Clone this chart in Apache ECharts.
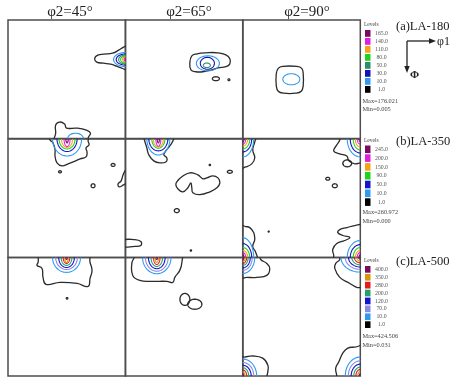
<!DOCTYPE html>
<html>
<head>
<meta charset="utf-8">
<script src="https://cdn.jsdelivr.net/npm/echarts@6/dist/echarts.min.js"></script>
<style>
html, body { margin: 0; padding: 0; background: #ffffff; }
#chart { width: 451px; height: 381px; }
</style>
</head>
<body>
<div id="chart"></div>
<script>
// Constant-phi2 ODF sections: phi1 runs 0-90 deg left to right, Phi runs 0-90 deg top to bottom.
const sectionTitles = ['φ2=45°', 'φ2=65°', 'φ2=90°'];
const sampleNames = ['(a)LA-180', '(b)LA-350', '(c)LA-500'];

// Contour levels of each sample (level index 0 is the lowest, drawn in black)
const levelsA = [1.0, 10.0, 30.0, 50.0, 80.0, 110.0, 140.0, 165.0];
const levelsB = [1.0, 10.0, 50.0, 90.0, 150.0, 200.0, 245.0];
const levelsC = [1.0, 10.0, 70.0, 120.0, 200.0, 280.0, 350.0, 400.0];
const colorsA = ['#2b2b2b', '#2f9bf0', '#1414b4', '#2e8b6e', '#1ed21e', '#f2a414', '#e01ee0', '#7a0a5e'];
const colorsB = ['#2b2b2b', '#2f9bf0', '#1414c8', '#1ed21e', '#f2a414', '#e01ee0', '#7a0a5e'];
const colorsC = ['#2b2b2b', '#2f9bf0', '#8a8ae6', '#1414c8', '#24a070', '#e41c1c', '#d8940c', '#7a0a5e'];
const extremesA = ['Max=176.021', 'Min=0.005'];
const extremesB = ['Max=260.972', 'Min=0.000'];
const extremesC = ['Max=424.506', 'Min=0.031'];

// Closed iso-lines around intensity peaks: [phi1, Phi, half-width phi1, half-width Phi, level index]
const ringsA45 = [[90, 30, 9.2, 5.3, 1], [90, 30, 7.2, 4.2, 2], [90, 30, 5.3, 3.4, 3], [90, 30, 3.8, 2.7, 4],
  [90, 30, 2.3, 1.9, 5], [90, 30, 1.1, 1.1, 6], [51.7, 90, 6, 4, 1]];
const ringsA65 = [[63.2, 32.9, 8.8, 5.7, 1], [62.8, 32.9, 5.4, 4.5, 2], [62.4, 34.4, 2.7, 1.7, 3],
  [69.3, 44.6, 2.7, 1.5, 0], [79.3, 45.4, 0.7, 0.7, 0]];
const ringsA90 = [[37.2, 45, 6.5, 4.2, 1]];
const ringsB45 = [[45.2, 0, 11.1, 12.9, 1], [45.2, 0, 7.7, 9.5, 2], [45.2, 0, 6.1, 7.6, 3], [45.2, 0, 4.2, 6.4, 4],
  [45.2, 0, 2.3, 5.7, 5], [45.2, 0, 0.9, 3, 6],
  [39.8, 24.9, 1.1, 0.8, 0], [80.4, 19.7, 1.5, 1.1, 0], [65.1, 35.5, 1.5, 1.5, 0]];
const ringsB65 = [[25.3, 0, 8.8, 12.1, 1], [25.3, 0, 7.3, 9, 2], [25.3, 0, 5, 7, 3], [25.3, 0, 3.8, 6, 4],
  [25.3, 0, 1.9, 5.5, 5], [25.3, 0, 0.8, 3, 6],
  [80, 24.9, 1.9, 1.1, 0], [64.7, 19.7, 0.5, 0.5, 0], [39.4, 54.4, 1.9, 1.5, 0], [50.2, 84.7, 0.5, 0.5, 0]];
const ringsB90 = [
  [0, 0, 8.4, 13.6, 1], [0, 0, 6.9, 9.8, 2], [0, 0, 5.4, 7.6, 3], [0, 0, 3.8, 5.3, 4], [0, 0, 2.3, 3.8, 5], [0, 0, 1.1, 1.9, 6],
  [90, 0, 10, 13.6, 1], [90, 0, 7.7, 10.6, 2], [90, 0, 5.4, 8.3, 3], [90, 0, 3.8, 6, 4], [90, 0, 2.3, 3.8, 5], [90, 0, 1, 1.9, 6],
  [0, 90, 8.4, 15, 1], [0, 90, 6.9, 10.6, 2], [0, 90, 5.4, 7.6, 3], [0, 90, 3.8, 5.3, 4], [0, 90, 2.3, 3.8, 5], [0, 90, 1.1, 1.9, 6],
  [90, 90, 10, 12.9, 1], [90, 90, 7.7, 9.8, 2], [90, 90, 5.4, 7.6, 3], [90, 90, 3.8, 5.3, 4], [90, 90, 2.3, 3.8, 5], [90, 90, 1, 1.9, 6],
  [80, 18.5, 3.4, 2.6, 0], [65.1, 30.2, 1.5, 1.1, 0], [70.5, 35.5, 1.9, 1.5, 0], [19.9, 70.3, 0.4, 0.4, 0]];
const ringsC45 = [[44.8, 0, 10.7, 11.3, 1], [44.8, 0, 8.3, 9.1, 2], [44.8, 0, 6, 7.6, 3], [44.8, 0, 4.1, 6, 4],
  [44.8, 0, 2.5, 4.5, 5], [44.8, 0, 1.3, 3.8, 6], [44.8, 0, 0.6, 1.5, 7], [45.2, 31, 0.6, 0.6, 0]];
const ringsC65 = [[24.1, 0, 10.9, 12.3, 1], [24.1, 0, 8.7, 10.4, 2], [24.1, 0, 6.4, 8.5, 3], [24.1, 0, 4.4, 6.8, 4],
  [24.1, 0, 2.5, 5.3, 5], [24.1, 0, 1.3, 3.6, 6], [24.1, 0, 0.6, 1.5, 7],
  [45.6, 31.8, 3.8, 4.5, 0], [53.2, 35.5, 5.4, 3.8, 0]];
const ringsC90 = [
  [0, 0, 9.2, 12.1, 1], [0, 0, 7.3, 9.8, 2], [0, 0, 5.8, 7.9, 3], [0, 0, 4.2, 6, 4], [0, 0, 3, 4.5, 5], [0, 0, 1.8, 3, 6], [0, 0, 0.8, 1.5, 7],
  [90, 0, 14.8, 11.1, 1], [90, 0, 11.5, 9, 2], [90, 0, 9, 7.2, 3], [90, 0, 6.5, 5.5, 4], [90, 0, 4.5, 4, 5], [90, 0, 2.7, 2.7, 6], [90, 0, 1.2, 1.2, 7],
  [0, 90, 10.7, 12.9, 1], [0, 90, 8.5, 10.3, 2], [0, 90, 6.5, 8.2, 3], [0, 90, 4.6, 6.3, 4], [0, 90, 3.1, 4.6, 5], [0, 90, 1.8, 3, 6], [0, 90, 0.8, 1.4, 7],
  [90, 90, 11.5, 14.4, 1], [90, 90, 9.2, 11.5, 2], [90, 90, 7, 9, 3], [90, 90, 5, 6.8, 4], [90, 90, 3.4, 5, 5], [90, 90, 2, 3.3, 6], [90, 90, 0.9, 1.5, 7]];

// Irregular lowest-level (1.0) iso-lines as [phi1, Phi] vertices; parts beyond 0-90 are clipped
const linesA45 = [
  [[92, 19.5], [88.5, 20.6], [84.7, 22.9], [80.1, 25.2], [73.2, 25.9], [68.7, 26.7], [66.4, 29], [67.9, 32],
    [73.2, 32.8], [78.6, 33.6], [83.2, 35.1], [87, 36.6], [92, 37.6], [96, 29]],
  [[35.7, 93], [36.5, 85.9], [36.5, 79.8], [39.5, 77.5], [43.3, 79], [44.8, 82.1], [52.4, 82.1], [60, 83.6],
    [63.1, 85.9], [61.6, 88.9], [60, 93]]];
const linesA65 = [
  [[50.9, 27.2], [54.8, 25.7], [61.7, 24.9], [70.9, 24.9], [77, 26.5], [80, 29.5], [80, 33.3], [77, 35.5],
    [70.9, 36.3], [66.3, 37.8], [59.4, 39.3], [54, 39.3], [50.2, 37.8], [49.4, 32.5]]];
const linesA90 = [
  [[30.6, 35.2], [41.4, 35.2], [45.2, 36.7], [46.3, 40.8], [46.3, 49.9], [44.8, 54.1], [40.6, 55.6], [31.4, 55.6],
    [27.2, 54.1], [25.7, 49.9], [25.7, 40.8], [27.2, 36.7]]];
const linesB45 = [
  [[31.4, -2.3], [32.2, 0.8], [34.5, 3], [36, 8.3], [36, 12.9], [37.5, 18.1], [41.4, 20.4], [46, 18.9], [49.8, 17.4],
    [55.2, 15.1], [59.7, 13.6], [60.5, 9.8], [59.7, 6.8], [62, 4.5], [61.3, 1.5], [61.3, -2.3]],
  [[90.4, 23.4], [88.1, 27.2], [86.6, 31.8], [84.3, 34], [85, 36.3], [87.3, 35.5], [90.4, 33.3], [93.5, 28]]];
const linesB65 = [
  [[14.2, -2.3], [14.9, 1.5], [16.5, 6.8], [18, 12.1], [21.8, 16.6], [26.4, 18.1], [31, 17.4], [31.8, 14.4],
    [29.5, 12.1], [31, 9.1], [34.1, 5.3], [36.4, 1.5], [37.2, -2.3]],
  [[39.4, 32.5], [43.3, 28.7], [49.4, 25.7], [55.5, 27.2], [59.4, 30.2], [62.4, 29.5], [67, 28], [70.9, 29.5],
    [72.4, 33.3], [70.1, 37], [64.7, 40.1], [57.1, 42.3], [51.7, 40.8], [50.9, 37], [50.2, 33.3], [47.9, 37],
    [44, 40.1], [40.2, 37.8], [38.7, 34.8]],
  [[-2.7, 77.1], [7.3, 76.4], [11.9, 77.9], [11.9, 80.9], [7.3, 81.6], [-2.7, 81.6]]];
const linesB90 = [
  [[10, -2.3], [9.2, 2.3], [7.7, 8.3], [9.2, 14.4], [6.9, 18.9], [2.3, 21.2], [-2.3, 21.9], [-2.3, -2.3]],
  [[74.3, -2.3], [74.3, 0.8], [72, 4.5], [69.7, 9.1], [74.3, 11.3], [79.7, 12.9], [81.2, 16.6], [85.8, 18.9],
    [90.4, 18.1], [93.5, 18.1], [93.5, -2.3]],
  [[-2.3, 65.8], [2.3, 66.5], [5.4, 67.3], [8.4, 71.1], [9.2, 76.4], [7.7, 81.6], [10, 86.2], [10.7, 91.5], [-2.3, 91.5]],
  [[93.5, 65.8], [85.8, 65.8], [79.7, 67.3], [74.3, 68.8], [72.8, 71.1], [76.6, 73.3], [82, 74.8], [78.1, 77.1],
    [72, 79.4], [68.9, 83.9], [69.7, 88.5], [69.7, 91.5], [93.5, 91.5]]];
const linesC45 = [
  [[24.5, -2.3], [23, 3.8], [22.2, 6], [26, 8.3], [26.8, 15.1], [29.1, 20.4], [39.8, 18.9], [52.9, 19.7],
    [61.3, 21.9], [62.8, 15.9], [64.3, 9.8], [62.8, 3.8], [61.3, -2.3]]];
const linesC65 = [
  [[8.8, -2.3], [6.5, 0.8], [5, 4.5], [5.7, 13.6], [11.1, 17.4], [20.3, 18.1], [31.8, 18.1], [36.4, 18.9],
    [37.9, 15.1], [41.7, 9.8], [43.3, 3.8], [42.5, -2.3]]];
const linesC90 = [
  [[12.3, -2.3], [13.8, 1.5], [18.4, 4.5], [20.7, 8.3], [18.4, 13.6], [10.7, 15.1], [3.1, 15.1], [-2.3, 15.1], [-2.3, -2.3]],
  [[74.3, -2.3], [74.3, 1.5], [71.2, 4.5], [70.5, 8.3], [74.3, 15.1], [82, 19.7], [87.3, 22.7], [90.4, 22.7],
    [93.5, 22.7], [93.5, -2.3]],
  [[-2.3, 75.6], [1.5, 75.6], [7.7, 74.8], [15.3, 76.4], [19.2, 81.6], [19.2, 86.9], [18.4, 90.7], [18.4, 93], [-2.3, 93]],
  [[93.5, 67.3], [85.8, 68.1], [80.4, 68.8], [76.6, 72.6], [73.5, 79.4], [71.2, 84], [72, 90], [72, 93], [93.5, 93]]];

const rows = [
  { levels: levelsA, colors: colorsA, extremes: extremesA, rings: [ringsA45, ringsA65, ringsA90], lines: [linesA45, linesA65, linesA90] },
  { levels: levelsB, colors: colorsB, extremes: extremesB, rings: [ringsB45, ringsB65, ringsB90], lines: [linesB45, linesB65, linesB90] },
  { levels: levelsC, colors: colorsC, extremes: extremesC, rings: [ringsC45, ringsC65, ringsC90], lines: [linesC45, linesC65, linesC90] }
];

// layout
const colLeft = [8, 125.3, 242.7];
const rowTop = [20, 139, 257.5];
const cellW = 117.6;
const cellH = 118.5;
const SERIF = '"Liberation Serif", "DejaVu Serif", serif';

function clipOf(params) {
  const cs = params.coordSys;
  return { type: 'rect', shape: { x: cs.x, y: cs.y, width: cs.width, height: cs.height } };
}

function ringRenderer(colors) {
  return function (params, api) {
    const c = api.coord([api.value(0), api.value(1)]);
    const s = api.size([api.value(2), api.value(3)]);
    const li = api.value(4);
    const pts = [];
    const n = 64;
    for (let k = 0; k < n; k++) {
      const t = (k / n) * Math.PI * 2;
      pts.push([c[0] + s[0] * Math.cos(t), c[1] + s[1] * Math.sin(t)]);
    }
    return {
      type: 'polygon',
      shape: { points: pts },
      style: { fill: 'none', stroke: colors[li], lineWidth: li === 0 ? 1.3 : 1.1 },
      clipPath: clipOf(params)
    };
  };
}

function outlineRenderer(lines, color) {
  return function (params, api) {
    const pts = lines[api.value(0)].map(function (p) { return api.coord(p); });
    return {
      type: 'polygon',
      shape: { points: pts, smooth: 0.45 },
      style: { fill: 'none', stroke: color, lineWidth: 1.3 },
      clipPath: clipOf(params)
    };
  };
}

const grid = [], xAxis = [], yAxis = [], series = [];
rows.forEach(function (row, r) {
  for (let c = 0; c < 3; c++) {
    const gi = r * 3 + c;
    grid.push({
      left: colLeft[c], top: rowTop[r], width: cellW, height: cellH,
      show: true, borderColor: '#4d4d4d', borderWidth: 1.5, backgroundColor: 'transparent'
    });
    xAxis.push({ gridIndex: gi, type: 'value', min: 0, max: 90, show: false });
    yAxis.push({ gridIndex: gi, type: 'value', min: 0, max: 90, inverse: true, show: false });
    series.push({
      type: 'custom', xAxisIndex: gi, yAxisIndex: gi, silent: true,
      data: row.lines[c].map(function (_, i) { return [i, 0]; }),
      encode: { x: 0, y: 1 },
      renderItem: outlineRenderer(row.lines[c], row.colors[0])
    });
    series.push({
      type: 'custom', xAxisIndex: gi, yAxisIndex: gi, silent: true,
      data: row.rings[c],
      encode: { x: 0, y: 1 },
      renderItem: ringRenderer(row.colors)
    });
  }
});

// text, level keys and the axis-direction arrow
const graphic = [];
const titleX = [70, 189, 307];
sectionTitles.forEach(function (t, i) {
  graphic.push({ type: 'text', style: { text: t, x: titleX[i], y: 12, font: '15px ' + SERIF, fill: '#222', align: 'center', verticalAlign: 'middle' } });
});

const keyTop = [25, 141, 260.5];
const swatchTop = [30, 145.5, 266];
const swatchH = [8, 8.8, 7.9];
const extremeY = [101, 212.5, 336.5];
const nameY = [27, 142, 262];
rows.forEach(function (row, r) {
  graphic.push({ type: 'text', style: { text: sampleNames[r], x: 396, y: nameY[r], font: '12.5px ' + SERIF, fill: '#222', align: 'left', verticalAlign: 'middle' } });
  graphic.push({ type: 'text', style: { text: 'Levels', x: 364, y: keyTop[r], font: '5.5px ' + SERIF, fill: '#444', align: 'left', verticalAlign: 'middle' } });
  const n = row.levels.length;
  for (let k = 0; k < n; k++) {
    const li = n - 1 - k;
    const y = swatchTop[r] + k * swatchH[r];
    graphic.push({ type: 'rect', shape: { x: 365, y: y, width: 5.5, height: swatchH[r] - 1.2 }, style: { fill: row.colors[li] === '#2b2b2b' ? '#000' : row.colors[li] } });
    graphic.push({ type: 'text', style: { text: row.levels[li].toFixed(1), x: 381.5, y: y + swatchH[r] / 2 - 0.5, font: '5.8px ' + SERIF, fill: '#555', align: 'center', verticalAlign: 'middle' } });
  }
  graphic.push({ type: 'text', style: { text: row.extremes[0], x: 362.5, y: extremeY[r], font: '6.3px ' + SERIF, fill: '#444', align: 'left', verticalAlign: 'middle' } });
  graphic.push({ type: 'text', style: { text: row.extremes[1], x: 362.5, y: extremeY[r] + 8.5, font: '6.3px ' + SERIF, fill: '#444', align: 'left', verticalAlign: 'middle' } });
});

graphic.push({ type: 'line', shape: { x1: 407, y1: 41, x2: 430, y2: 41 }, style: { stroke: '#222', lineWidth: 1.3 } });
graphic.push({ type: 'polygon', shape: { points: [[436, 41], [429, 38.3], [429, 43.7]] }, style: { fill: '#222' } });
graphic.push({ type: 'line', shape: { x1: 407, y1: 41, x2: 407, y2: 67 }, style: { stroke: '#222', lineWidth: 1.3 } });
graphic.push({ type: 'polygon', shape: { points: [[407, 73], [404.3, 66], [409.7, 66]] }, style: { fill: '#222' } });
graphic.push({ type: 'text', style: { text: 'φ1', x: 437, y: 42, font: '12px ' + SERIF, fill: '#222', align: 'left', verticalAlign: 'middle' } });
graphic.push({ type: 'text', style: { text: 'Φ', x: 410, y: 75, font: 'bold 11px ' + SERIF, fill: '#222', align: 'left', verticalAlign: 'middle' } });

const chart = echarts.init(document.getElementById('chart'), null, { renderer: 'canvas' });
chart.setOption({
  animation: false,
  backgroundColor: '#ffffff',
  grid: grid,
  xAxis: xAxis,
  yAxis: yAxis,
  series: series,
  graphic: graphic
});
</script>
</body>
</html>
